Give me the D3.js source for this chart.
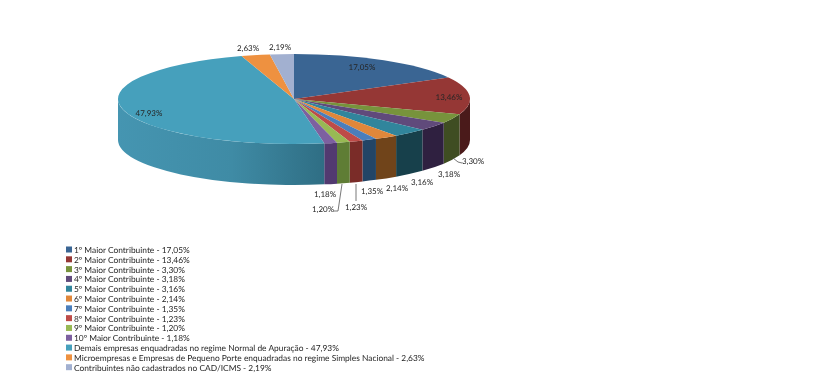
<!DOCTYPE html>
<html>
<head>
<meta charset="utf-8">
<script src="https://cdn.jsdelivr.net/npm/d3@7"></script>
<style>
  html, body { margin: 0; padding: 0; background: #fff; }
  svg { display: block; filter: blur(0.3px); }
  text { font-family: Lato, sans-serif; fill: #262626; text-rendering: geometricPrecision; }
</style>
</head>
<body>
<div id="chart"></div>
<script>
// Chart Data
const categories = [
  "1º Maior Contribuinte", "2º Maior Contribuinte", "3º Maior Contribuinte", "4º Maior Contribuinte",
  "5º Maior Contribuinte", "6º Maior Contribuinte", "7º Maior Contribuinte", "8º Maior Contribuinte",
  "9º Maior Contribuinte", "10º Maior Contribuinte",
  "Demais empresas enquadradas no regime Normal de Apuração",
  "Microempresas e Empresas de Pequeno Porte enquadradas no regime Simples Nacional",
  "Contribuintes não cadastrados no CAD/ICMS"
];
const values = [17.05, 13.46, 3.30, 3.18, 3.16, 2.14, 1.35, 1.23, 1.20, 1.18, 47.93, 2.63, 2.19];

// Slice Colours
const topColors = ["#3a6593", "#953735", "#77933c", "#604a7b", "#31859c", "#e0873a", "#4a7ebb", "#be4b48", "#98b954", "#7d60a0", "#46a0bc", "#ee9140", "#a2b0d0"];
const wallColors = ["#274566", "#4a1a1a", "#3f4d22", "#2f2040", "#17404b", "#70441a", "#234566", "#7a2c28", "#5f7d35", "#523a70", "url(#wallGrad)", "#a8662c", "#6f7a92"];

// Label Positions (Same Order As Values)
const labelX = [362, 449, 473, 449, 422, 397, 372, 356, 323, 325, 149, 248, 280];
const labelY = [70, 100, 164, 177, 185, 191, 194, 210, 212, 197, 116, 51, 50];

// Initialise Dimensions
const w = 823, h = 385;
const cx = 294, cy = 99, rx = 176, ry = 45, depth = 41;

const svg = d3.select("#chart").append("svg").attr("width", w).attr("height", h);

// Gradient For Large Slice Wall
const grad = svg.append("defs").append("linearGradient").attr("id", "wallGrad");
grad.append("stop").attr("offset", "0%").attr("stop-color", "#4595b1");
grad.append("stop").attr("offset", "55%").attr("stop-color", "#3f8ba5");
grad.append("stop").attr("offset", "100%").attr("stop-color", "#2f6e84");

const slices = d3.pie().sort(null)(values);

// Point On Rim For Angle Measured Clockwise From Top
const rim = (a, dy) => [cx + rx * Math.sin(a), cy - ry * Math.cos(a) + dy];

// Draw Visible Side Walls
const walls = svg.append("g");
slices.forEach((s, i) => {
  let a0 = Math.max(s.startAngle, Math.PI / 2), a1 = Math.min(s.endAngle, Math.PI * 1.5);
  if (a1 <= a0) return;
  let p0 = rim(a0, 0), p1 = rim(a1, 0), p2 = rim(a1, depth), p3 = rim(a0, depth);
  walls.append("path")
    .attr("d", `M${p0}A${rx},${ry} 0 0 1 ${p1}L${p2}A${rx},${ry} 0 0 0 ${p3}Z`)
    .attr("fill", wallColors[i]);
});

// Draw Top Face
const arc = d3.arc().innerRadius(0).outerRadius(rx);
svg.append("g")
  .attr("transform", `translate(${cx},${cy}) scale(1,${ry / rx})`)
  .selectAll("path").data(slices).enter().append("path")
  .attr("d", arc)
  .attr("fill", (d, i) => topColors[i]);

// Leader Lines
const line = d3.line().curve(d3.curveLinear);
const leaders = [
  [[453, 158], [458, 162], [462, 163]],
  [[356, 184], [356, 201]],
  [[342, 184], [338, 211], [334, 211]]
];
svg.append("g").selectAll("path").data(leaders).enter().append("path")
  .attr("d", line).attr("fill", "none").attr("stroke", "#555").attr("stroke-width", 0.8);

// Data Labels
const fmt = (v) => v.toFixed(2).replace(".", ",") + "%";
svg.append("g").selectAll("text").data(values).enter().append("text")
  .attr("x", (d, i) => labelX[i]).attr("y", (d, i) => labelY[i])
  .attr("text-anchor", "middle").attr("font-size", 8)
  .text(fmt);

// Legend
const legendY = d3.scaleBand().domain(d3.range(categories.length)).range([244.5, 372]);
const legend = svg.append("g").selectAll("g").data(categories).enter().append("g")
  .attr("transform", (d, i) => `translate(66,${legendY(i)})`);
legend.append("rect").attr("y", 2).attr("width", 6).attr("height", 6).attr("fill", (d, i) => topColors[i]);
legend.append("text").attr("x", 8).attr("y", 8.5).attr("font-size", 8.4)
  .text((d, i) => d + " - " + fmt(values[i]));
</script>
</body>
</html>
